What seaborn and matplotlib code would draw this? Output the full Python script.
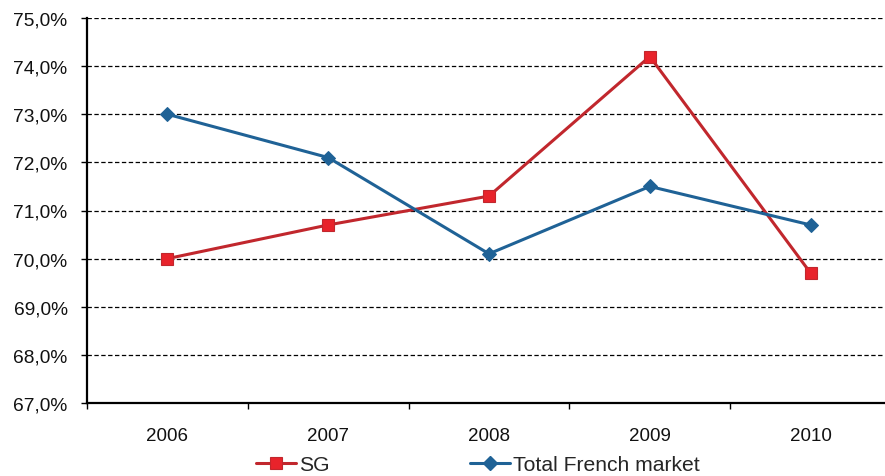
import matplotlib
matplotlib.use("Agg")
import matplotlib.pyplot as plt
import seaborn as sns
import pandas as pd
from matplotlib.lines import Line2D
from matplotlib.ticker import FuncFormatter, MultipleLocator, FixedLocator

years = ["2006", "2007", "2008", "2009", "2010"]
sg_values = [70.0, 70.7, 71.3, 74.2, 69.7]
market_values = [73.0, 72.1, 70.1, 71.5, 70.7]
series_names = ["SG", "Total French market"]

sns.set_theme(style="white")
plt.rcParams["font.family"] = ["Liberation Sans", "DejaVu Sans"]

red_line = "#C1272D"
red_fill = "#E8232B"
blue_line = "#1F6296"

df = pd.DataFrame({"year": years, "SG": sg_values, "Market": market_values})

fig = plt.figure(figsize=(8.85, 4.77), dpi=100)
ax = fig.add_axes([87 / 885, 1 - 404 / 477, (891 - 87) / 885, (404 - 19) / 477])

sns.lineplot(data=df, x="year", y="SG", ax=ax, color=red_line, linewidth=2.2,
             marker="s", markersize=8, markerfacecolor=red_fill,
             markeredgecolor=red_line, markeredgewidth=0.8, sort=False)
sns.lineplot(data=df, x="year", y="Market", ax=ax, color=blue_line, linewidth=2.2,
             marker="D", markersize=7, markerfacecolor=blue_line,
             markeredgecolor=blue_line, sort=False)

ax.set_xlim(-0.5, len(years) - 0.5)
ax.set_ylim(67, 75)
ax.yaxis.set_major_locator(MultipleLocator(1))
ax.yaxis.set_major_formatter(FuncFormatter(lambda v, _: f"{v:.1f}%".replace(".", ",")))

ax.set_xticks(range(len(years)))
ax.set_xticklabels(years)
ax.xaxis.set_minor_locator(FixedLocator([i - 0.5 for i in range(len(years) + 1)]))
ax.tick_params(axis="x", which="major", length=0, pad=17, labelsize=13.5, colors="#111111")
ax.tick_params(axis="x", which="minor", length=4, width=1, color="black", direction="out")
ax.tick_params(axis="y", which="major", length=4, width=1, color="black", direction="out",
               labelsize=13.8, labelcolor="#111111", pad=10)
ax.xaxis.set_ticks_position("bottom")
ax.yaxis.set_ticks_position("left")

ax.grid(axis="y", color="black", linestyle=(0, (3.5, 2)), linewidth=0.9)
ax.set_axisbelow(True)
ax.set_xlabel("")
ax.set_ylabel("")

for side in ("top", "right"):
    ax.spines[side].set_visible(False)
for side in ("left", "bottom"):
    ax.spines[side].set_color("black")
    ax.spines[side].set_linewidth(1.6)

handles = [
    Line2D([], [], color=red_line, linewidth=2.2, marker="s", markersize=8,
           markerfacecolor=red_fill, markeredgecolor=red_line, markeredgewidth=0.8),
    Line2D([], [], color=blue_line, linewidth=2.2, marker="D", markersize=7,
           markerfacecolor=blue_line, markeredgecolor=blue_line),
]
fig.legend(handles, series_names, loc="center", bbox_to_anchor=(0.54, 0.024),
           ncol=2, frameon=False, fontsize=15.2, handlelength=1.9, handletextpad=0.15,
           columnspacing=6.6, borderpad=0)

fig.savefig("out.png", dpi=100)
